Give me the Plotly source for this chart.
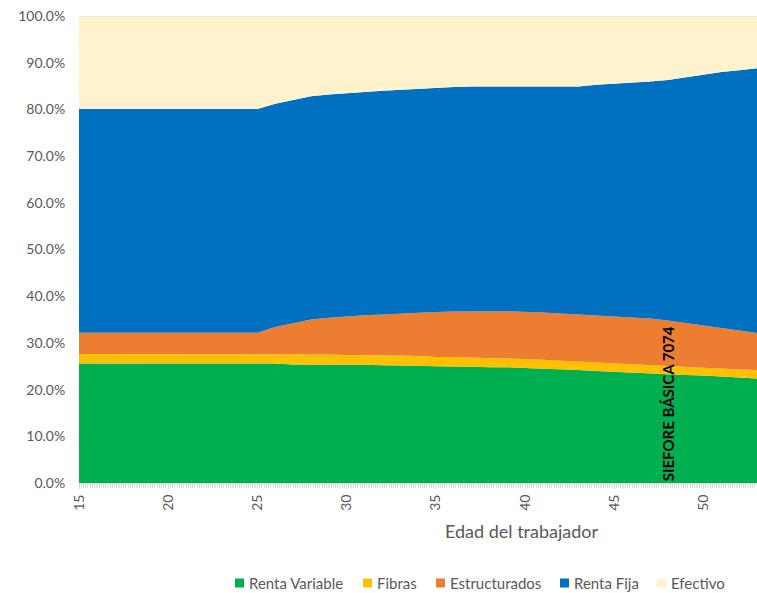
import plotly.graph_objects as go

ages = list(range(15, 54))

renta_variable = [25.6]*12 + [25.4, 25.4, 25.4, 25.3, 25.3, 25.2, 25.2, 25.1, 25.0, 25.0,
                              24.9, 24.8, 24.8, 24.6, 24.5, 24.3, 24.2, 24.0, 23.8, 23.6,
                              23.4, 23.3, 23.1, 23.0, 22.8, 22.6, 22.4]
fibras = [2.0]*12 + [2.1, 2.1, 2.1, 2.1, 2.1, 2.1, 2.1, 2.1, 2.0, 2.0,
                     2.0, 2.0, 1.9, 2.0, 1.9, 1.9, 1.8, 1.8, 1.8, 1.8,
                     1.8, 1.7, 1.7, 1.7, 1.7, 1.7, 1.8]
estructurados = [4.6]*11 + [5.8, 6.7, 7.5, 7.9, 8.3, 8.5, 8.8, 9.0, 9.2, 9.6, 9.7,
                            9.9, 10.0, 10.1, 10.1, 10.1, 10.1, 10.1, 10.1, 10.1, 10.1,
                            10.0, 9.8, 9.4, 9.0, 8.7, 8.4, 7.9]
renta_fija = [47.9]*11 + [47.8, 47.8, 47.8, 47.8, 47.7, 47.8, 47.9, 47.9, 48.1, 48.0, 48.1,
                          48.1, 48.1, 48.1, 48.3, 48.5, 48.7, 48.8, 49.4, 49.8, 50.2,
                          50.8, 51.5, 52.7, 53.8, 54.8, 55.7, 56.7]
efectivo = [19.9]*11 + [18.8, 18.0, 17.2, 16.8, 16.6, 16.3, 16.0, 15.8, 15.5, 15.4, 15.2,
                        15.1, 15.1, 15.1, 15.0, 15.0, 15.0, 15.1, 14.7, 14.5, 14.3,
                        14.0, 13.7, 13.1, 12.5, 12.0, 11.6, 11.2]

series_names = ["Renta Variable", "Fibras", "Estructurados", "Renta Fija", "Efectivo"]
series_values = [renta_variable, fibras, estructurados, renta_fija, efectivo]
colors = ["#00B050", "#FFC000", "#ED7D31", "#0070C0", "#FFF2CC"]

x_ticks = [15, 20, 25, 30, 35, 40, 45, 50]
y_ticks = [0, 10, 20, 30, 40, 50, 60, 70, 80, 90, 100]
y_labels = [f"{v:.1f}%" for v in y_ticks]

FONT = "Lato, 'Open Sans', sans-serif"
GRAY = "#595959"

W, H = 757, 593
ML, MT, MB = 79, 16, 110
PW = W - ML            # plot width in px
PH = H - MT - MB       # plot height in px


def px_to_paper_x(px):
    return (px - ML) / PW


def px_to_paper_y(py):
    return (MT + PH - py) / PH


fig = go.Figure()
for name, vals, col in zip(series_names, series_values, colors):
    fig.add_trace(go.Scatter(
        x=ages, y=vals, name=name, mode="lines", showlegend=False,
        stackgroup="one", line=dict(width=0, color=col),
        fillcolor=col, hoverinfo="x+y+name"))

# Manual legend (square swatch + label), positioned like the reference
legend_px = [235, 363, 436, 560, 657]   # swatch left edges in pixels
legend_y_px = 583
yc = px_to_paper_y(legend_y_px)
for name, col, px in zip(series_names, colors, legend_px):
    fig.add_shape(type="rect", xref="paper", yref="paper",
                  x0=px_to_paper_x(px), x1=px_to_paper_x(px + 9),
                  y0=yc - 4.5 / PH, y1=yc + 4.5 / PH,
                  fillcolor=col, line=dict(width=0))
    fig.add_annotation(x=px_to_paper_x(px + 12), y=yc, xref="paper", yref="paper",
                       text=name, showarrow=False, xanchor="left", yanchor="middle",
                       font=dict(family=FONT, size=15, color=GRAY))

fig.add_annotation(
    x=48.0, y=0.0, xref="x", yref="y", text="<b>SIEFORE BÁSICA 7074</b>",
    textangle=-90, showarrow=False, xanchor="center", yanchor="bottom",
    font=dict(family=FONT, size=15, color="#000000"))

fig.add_annotation(
    x=px_to_paper_x(522), y=px_to_paper_y(531), xref="paper", yref="paper",
    text="Edad del trabajador", showarrow=False, xanchor="center", yanchor="middle",
    font=dict(family=FONT, size=18, color=GRAY))

fig.add_shape(type="line", xref="paper", yref="y", x0=0, x1=1, y0=100, y1=100,
              line=dict(color="#e0e0e0", width=1.5), layer="above")

fig.update_layout(
    width=W, height=H,
    margin=dict(l=ML, r=0, t=MT, b=MB, autoexpand=False),
    paper_bgcolor="white", plot_bgcolor="white",
    font=dict(family=FONT, size=14, color=GRAY),
    showlegend=False,
    xaxis=dict(range=[15, 53], tickmode="array", tickvals=x_ticks,
               ticktext=[str(v) for v in x_ticks], tickangle=-90,
               showgrid=False, zeroline=False, showline=True, linecolor="#d9d9d9",
               ticks="outside", ticklen=5, tickcolor="#d9d9d9",
               minor=dict(dtick=0.125, ticks="outside", ticklen=4, tickcolor="#d9d9d9"),
               tickfont=dict(family=FONT, size=14, color=GRAY)),
    yaxis=dict(range=[0, 100], tickmode="array", tickvals=y_ticks, ticktext=y_labels,
               showgrid=True, gridcolor="#d9d9d9", zeroline=False, showline=False,
               ticks="outside", ticklen=10, tickcolor="rgba(0,0,0,0)",
               ticklabeloverflow="allow",
               tickfont=dict(family=FONT, size=14, color=GRAY)),
)

fig.write_html("out.html",
               config={"displayModeBar": False},
               post_script="document.body.style.margin='0px';"
                           "document.body.style.overflow='hidden';")
